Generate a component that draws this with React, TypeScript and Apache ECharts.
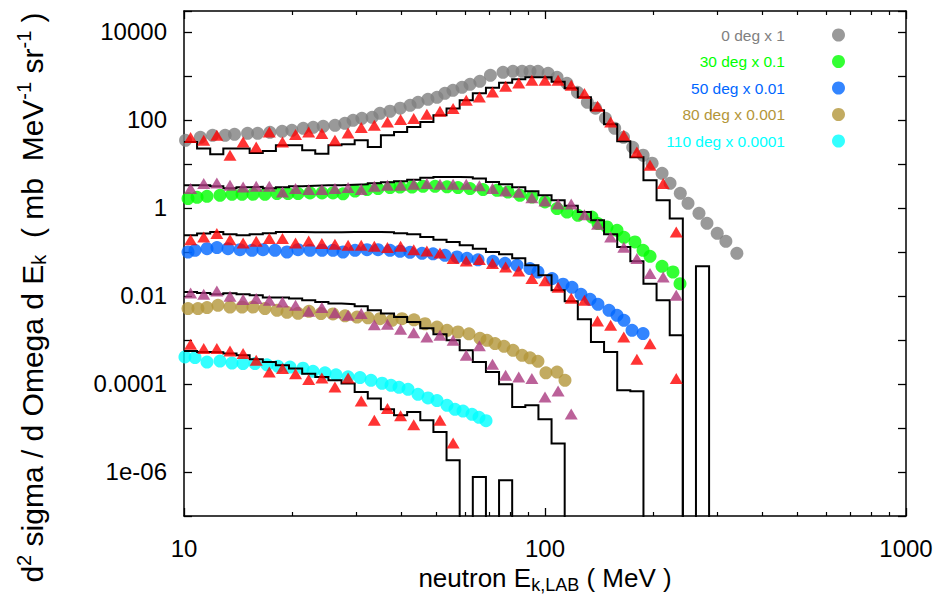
import React, { useEffect, useRef } from "react";
import * as echarts from "echarts";

const FONT = "'Liberation Sans', Arial, Helvetica, sans-serif";

// ---- axes ----
const X_MIN = 10;
const X_MAX = 1000;
const Y_MIN = 1e-7;
const Y_MAX = 3e4;
const X_TICK_VALUES = [10, 100, 1000];
const X_TICK_LABELS = ["10", "100", "1000"];
const Y_TICK_EXP = [4, 2, 0, -2, -4, -6];
const Y_TICK_LABELS = ["10000", "100", "1", "0.01", "0.0001", "1e-06"];
const X_TITLE = "{n|neutron E}{sub|k,LAB}{n| ( MeV )}";
const Y_TITLE = "{n|d}{sup|2}{n| sigma / d Omega d E}{sub|k}{n|  ( mb  MeV}{sup|-1}{n| sr}{sup|-1}{n| )}";

// value used for empty histogram bins (falls below the frame)
const EMPTY_BIN = 1e-12;

// ---- simulation bins (log spaced) ----
const BIN_EDGES = [10, 10.87, 11.82, 12.85, 13.98, 15.2, 16.53, 17.97, 19.54, 21.25, 23.1, 25.12, 27.31, 29.7, 32.29, 35.11, 38.18, 41.51, 45.14, 49.08, 53.37, 58.03, 63.1, 68.61, 74.6, 81.11, 88.2, 95.9, 104.27, 113.38, 123.28, 134.05, 145.75, 158.49, 172.33, 187.38, 203.74, 221.54, 240.88, 261.92, 284.8];
const BIN_CENTERS = [10.43, 11.34, 12.33, 13.41, 14.58, 15.85, 17.23, 18.74, 20.37, 22.15, 24.09, 26.19, 28.48, 30.97, 33.67, 36.61, 39.81, 43.29, 47.07, 51.18, 55.65, 60.51, 65.8, 71.54, 77.79, 84.58, 91.97, 100.0, 108.7, 118.2, 128.6, 139.8, 152.0, 165.3, 179.7, 195.4, 212.5, 231.0];

// ---- legend ----
const LEGEND_NAMES = ["0 deg x 1", "30 deg x 0.1", "50 deg x 0.01", "80 deg x 0.001", "110 deg x 0.0001"];
const DATA_COLORS = ["#808080", "#00ff00", "#0066ff", "#b39639", "#00ffff"];
const TRI_RED = "#ff0000";
const TRI_PURPLE = "#aa3a80";

// ---- experimental data (circles) ----
const E_0 = [10.1, 11.1, 12.0, 13.0, 13.8, 15.0, 16.0, 17.3, 18.7, 19.9, 21.4, 22.8, 24.3, 26.2, 27.9, 29.4, 31.1, 33.2, 34.9, 37.2, 39.7, 42.3, 44.5, 47.4, 50.2, 52.8, 55.6, 58.9, 62.0, 66.0, 70.6, 76.5, 81.5, 86.4, 90.9, 95.6, 102, 108, 115, 123, 131, 138, 147, 156, 165, 175, 187, 198, 211, 222, 237, 249, 267, 281, 300, 317, 340];
const V_0 = [34.6, 40.5, 44.9, 44.9, 47.3, 49.9, 49.9, 52.5, 55.3, 58.3, 64.8, 68.3, 71.9, 75.8, 84.1, 98.5, 109, 115, 142, 158, 185, 216, 253, 295, 328, 404, 473, 553, 647, 758, 1038, 1213, 1279, 1279, 1279, 1279, 1151, 934, 682, 426, 253, 185, 109, 64.8, 40.5, 24.0, 15.8, 10.4, 6.15, 3.64, 2.16, 1.28, 0.759, 0.449, 0.266, 0.175, 0.0933];

const E_30 = [10.26, 10.87, 11.58, 12.58, 13.58, 14.48, 15.53, 16.76, 18.1, 19.42, 20.7, 22.34, 24.12, 25.86, 27.57, 29.77, 32.13, 34.47, 37.21, 39.66, 42.81, 45.92, 49.59, 53.53, 57.41, 61.97, 67.35, 73.62, 78.98, 85.24, 92.04, 100, 108, 115.1, 123.4, 134.9, 140.2, 148.5, 158.3, 165.5, 177.5, 186.9, 195.4, 211, 226.2, 236.6];
const V_30 = [1.636, 1.751, 1.845, 1.944, 2.048, 2.048, 2.048, 2.048, 2.125, 2.125, 2.125, 2.193, 2.193, 2.193, 2.102, 2.434, 2.619, 2.76, 2.909, 3.0, 3.0, 3.113, 3.113, 3.032, 2.909, 2.76, 2.619, 2.525, 2.31, 1.944, 1.778, 1.369, 0.969, 0.811, 0.682, 0.624, 0.442, 0.37, 0.311, 0.216, 0.169, 0.109, 0.0798, 0.0473, 0.0351, 0.0191];

const E_50 = [10.26, 10.73, 11.58, 12.34, 13.24, 14.29, 15.43, 16.55, 17.87, 19.29, 20.7, 22.34, 24.12, 25.86, 27.57, 29.77, 32.13, 34.47, 37.21, 39.66, 42.27, 45.63, 48.96, 52.84, 57.04, 60.8, 65.23, 71.78, 77.5, 83.66, 90.89, 95.6, 104.6, 112.2, 118.8, 125.8, 133.3, 140.2, 150.4, 158.3, 165.5, 174.2, 186.9];
const V_50 = [0.1, 0.109, 0.119, 0.126, 0.119, 0.113, 0.109, 0.113, 0.109, 0.1, 0.113, 0.109, 0.109, 0.109, 0.1, 0.109, 0.113, 0.113, 0.109, 0.104, 0.0985, 0.0934, 0.091, 0.0841, 0.077, 0.0719, 0.0665, 0.0615, 0.0554, 0.0499, 0.042, 0.0351, 0.0249, 0.0185, 0.0158, 0.0109, 0.00841, 0.00648, 0.00473, 0.00364, 0.0028, 0.00166, 0.0014];

const E_80 = [10.26, 10.93, 11.58, 12.42, 13.41, 14.48, 15.53, 16.76, 18.1, 19.29, 20.7, 22.2, 23.96, 25.86, 27.93, 30.15, 32.33, 34.91, 37.69, 40.17, 43.36, 46.52, 50.22, 53.53, 57.41, 61.58, 66.05, 69.07, 72.71, 77.0, 81.55, 86.4, 90.89, 95.6, 100.6, 108, 113.6];
const V_80 = [0.00517, 0.00517, 0.00545, 0.00615, 0.00562, 0.00562, 0.00562, 0.00517, 0.00473, 0.00426, 0.00404, 0.00449, 0.00398, 0.0039, 0.00355, 0.00333, 0.0032, 0.00306, 0.0028, 0.00306, 0.00288, 0.00234, 0.00197, 0.00166, 0.00152, 0.00138, 0.00109, 0.000985, 0.000828, 0.000719, 0.000583, 0.000449, 0.000394, 0.000328, 0.00018, 0.000187, 0.000121];

const E_110 = [10.06, 10.73, 11.58, 12.58, 13.58, 14.57, 15.73, 16.98, 18.21, 19.66, 21.36, 22.77, 24.58, 26.37, 28.47, 30.73, 32.96, 35.37, 37.45, 39.41, 41.74, 44.48, 47.41, 50.22, 53.53, 56.32, 59.28, 62.77, 65.64, 68.65];
const V_110 = [0.000411, 0.000398, 0.000316, 0.000333, 0.0003, 0.000291, 0.000291, 0.000273, 0.000252, 0.000243, 0.000228, 0.000194, 0.00018, 0.000162, 0.000146, 0.00014, 0.000121, 0.000104, 0.0000934, 0.0000841, 0.0000758, 0.0000583, 0.0000481, 0.000042, 0.0000328, 0.0000266, 0.0000243, 0.0000205, 0.0000175, 0.0000147];

// ---- model A (triangles), one value per bin, null = no point ----
const TRI_0 = [39.8, 34.6, 44.9, 15.8, 31.6, 24.3, 53.4, 31.6, 46.6, 53.4, 49.1, 34.6, 50.6, 67.2, 75.8, 90.1, 102, 108, 135, 158, 182, 280, 333, 433, 583, 693, 798, 798, 798, 615, 398, 205, 90.1, 44.9, 18.7, 9.34, 3.58, 0.285];
const TRI_30 = [2.76, 3.59, 3.7, 3.28, 3.0, 3.11, 3.11, 2.31, 2.76, 2.62, 2.62, 2.76, 2.91, 2.62, 3.11, 3.28, 3.28, 3.46, 3.59, 3.46, 3.46, 3.46, 3.2, 2.76, 2.43, 2.28, 1.71, 1.44, 1.23, 1.23, 0.7, 0.426, 0.219, 0.128, 0.0708, 0.0323, 0.027, 0.0104];
const TRI_50 = [0.191, 0.219, 0.262, 0.191, 0.16, 0.175, 0.202, 0.202, 0.16, 0.178, 0.155, 0.15, 0.142, 0.142, 0.135, 0.126, 0.135, 0.113, 0.105, 0.0949, 0.0708, 0.0625, 0.0672, 0.0545, 0.0456, 0.037, 0.0249, 0.0222, 0.0158, 0.00887, 0.00798, 0.0027, 0.00216, 0.00117, 0.000364, 0.00082, null, 0.000133];
const TRI_80 = [0.0117, 0.0109, 0.013, 0.00985, 0.00828, 0.00873, 0.00798, 0.00731, 0.00615, 0.00449, 0.00545, 0.00415, 0.00364, 0.00398, 0.00221, 0.00227, 0.00175, 0.00147, 0.00117, 0.00128, 0.000985, 0.000449, 0.000738, 0.00028, 0.000158, 0.000144, 0.000133, 0.0000507, 0.0000693, 0.0000208];
const TRI_110 = [0.000798, 0.000638, 0.000638, 0.000562, 0.000491, 0.000346, 0.000187, 0.000224, 0.000172, 0.000126, 0.000136, 0.0000855, 0.000136, 0.0000411, 0.000015, 0.0000276, 0.0000189, 0.0000118, null, 0.000015, 0.00000456];

// ---- model B (histograms), one value per bin, 0 = empty bin ----
const HIST_0 = [31.6, 22.4, 16.6, 22.4, 22.4, 17.8, 19.7, 26.6, 26.6, 20.5, 17.2, 26.6, 28.0, 34.6, 24.3, 44.9, 53.4, 69.3, 90.1, 128, 182, 280, 404, 539, 700, 841, 934, 934, 738, 525, 328, 166, 79.8, 32.8, 14.2, 4.26, 1.5, 0.574, 0, 0.0473];
const HIST_30 = [3.28, 3.28, 3.11, 2.8, 2.95, 3.03, 2.8, 2.95, 3.11, 3.2, 3.28, 3.28, 3.37, 3.46, 3.64, 3.84, 4.04, 4.37, 4.86, 5.06, 5.06, 4.99, 4.66, 3.9, 3.46, 2.95, 2.4, 1.94, 1.5, 1.12, 0.811, 0.525, 0.253, 0.13, 0.0615, 0.0191, 0.00798, 0.00128];
const HIST_50 = [0.24, 0.262, 0.285, 0.253, 0.24, 0.253, 0.266, 0.285, 0.285, 0.28, 0.28, 0.28, 0.285, 0.285, 0.285, 0.28, 0.266, 0.253, 0.219, 0.191, 0.169, 0.142, 0.119, 0.1, 0.0886, 0.0719, 0.0499, 0.0295, 0.0135, 0.00758, 0.00295, 0.000901, 0.000534, 0.0000719, 0.0000683];
const HIST_80 = [0.0123, 0.0117, 0.0109, 0.0115, 0.0109, 0.0104, 0.0092, 0.0092, 0.00873, 0.00798, 0.00731, 0.00672, 0.00648, 0.00583, 0.00473, 0.00398, 0.00333, 0.00256, 0.00184, 0.00135, 0.000985, 0.000583, 0.000316, 0.000187, 0.0000985, 0.00003, 0.0000328, 0.0000158, 0.00000442];
const HIST_110 = [0.000562, 0.000534, 0.000525, 0.000491, 0.000449, 0.000364, 0.000316, 0.000266, 0.000224, 0.000172, 0.000144, 0.000121, 0.000102, 0.0000658, 0.0000466, 0.0000266, 0.0000194, 0.0000231, 0.000015, 0.00000811, 0.00000185, 0, 0.00000077, 0, 0.00000065];

const AXIS_COLOR = "#000";

function circleSeries(name: string, e: number[], v: number[], color: string) {
  return {
    type: "scatter",
    name,
    data: e.map((x, i) => [x, v[i]]),
    symbol: "circle",
    symbolSize: 13,
    itemStyle: { color },
    z: 2,
  };
}

function triangleSeries(name: string, vals: (number | null)[], color: string) {
  const data: number[][] = [];
  vals.forEach((v, k) => {
    if (v != null) data.push([BIN_CENTERS[k], v]);
  });
  return {
    type: "scatter",
    name,
    data,
    symbol: "triangle",
    symbolSize: [13, 11],
    itemStyle: { color },
    z: 4,
  };
}

function histSeries(name: string, vals: number[]) {
  const data = vals.map((v, k) => [BIN_EDGES[k], v > 0 ? v : EMPTY_BIN]);
  data.push([BIN_EDGES[vals.length], EMPTY_BIN]);
  return {
    type: "line",
    name,
    data,
    step: "end",
    symbol: "none",
    showSymbol: false,
    clip: true,
    lineStyle: { color: "#000", width: 2, join: "miter", cap: "butt" },
    itemStyle: { color: "#000" },
    z: 3,
  };
}

function xLabel(v: number) {
  const i = X_TICK_VALUES.findIndex((t) => Math.abs(t - v) / t < 1e-6);
  return i >= 0 ? X_TICK_LABELS[i] : "";
}

function yLabel(v: number) {
  const e = Math.round(v);
  if (Math.abs(v - e) > 1e-6) return "";
  const i = Y_TICK_EXP.indexOf(e);
  return i >= 0 ? Y_TICK_LABELS[i] : "";
}

export default function App() {
  const ref = useRef<HTMLDivElement>(null);

  useEffect(() => {
    if (!ref.current) return;
    const chart = echarts.init(ref.current, undefined, { renderer: "svg" });

    const lineStyle = { color: AXIS_COLOR, width: 1.5 };
    const logMin = Math.log10(Y_MIN);
    const logMax = Math.log10(Y_MAX);

    const xCommon = {
      type: "log",
      logBase: 10,
      min: X_MIN,
      max: X_MAX,
      axisLine: { show: true, onZero: false, lineStyle },
      axisTick: { show: true, inside: true, length: 8, lineStyle: { color: AXIS_COLOR, width: 1.3 } },
      minorTick: { show: true, splitNumber: 9, length: 4, lineStyle: { color: AXIS_COLOR, width: 1.2 } },
      splitLine: { show: false },
      minorSplitLine: { show: false },
    };

    const yTickAxis = {
      type: "value",
      min: logMin,
      max: logMax,
      interval: 1,
      axisLine: { show: true, onZero: false, lineStyle },
      axisTick: { show: true, inside: true, length: 8, lineStyle: { color: AXIS_COLOR, width: 1.3 } },
      splitLine: { show: false },
    };

    const names = LEGEND_NAMES;

    const option = {
      animation: false,
      backgroundColor: "#fff",
      textStyle: { fontFamily: FONT },
      grid: { left: 184, right: 36, top: 11, bottom: 83, containLabel: false, outerBoundsMode: "none" },
      legend: {
        orient: "vertical",
        right: 92,
        top: 22,
        align: "right",
        icon: "circle",
        itemWidth: 13,
        itemHeight: 13,
        itemGap: 10.5,
        selectedMode: false,
        textStyle: { fontFamily: FONT, fontSize: 15.5, padding: [0, 42, 0, 0] },
        data: names.map((n, i) => ({ name: n, textStyle: { color: DATA_COLORS[i] } })),
      },
      xAxis: [
        {
          ...xCommon,
          position: "bottom",
          axisLabel: { show: true, formatter: xLabel, fontSize: 24, color: "#000", margin: 20, fontFamily: FONT },
          name: X_TITLE,
          nameLocation: "middle",
          nameGap: 44,
          nameTextStyle: {
            color: "#000",
            fontFamily: FONT,
            rich: {
              n: { fontSize: 26, fontFamily: FONT, color: "#000" },
              sub: { fontSize: 18, fontFamily: FONT, color: "#000", padding: [14, 0, 0, 0] },
            },
          },
        },
        {
          ...xCommon,
          position: "top",
          axisLabel: { show: false },
        },
      ],
      yAxis: [
        { type: "log", logBase: 10, min: Y_MIN, max: Y_MAX, show: false, splitLine: { show: false } },
        {
          ...yTickAxis,
          position: "left",
          axisLabel: { show: true, formatter: yLabel, fontSize: 24, color: "#000", margin: 17, fontFamily: FONT },
          name: Y_TITLE,
          nameLocation: "middle",
          nameRotate: 90,
          nameGap: 134,
          nameTextStyle: {
            color: "#000",
            fontFamily: FONT,
            padding: [0, 68, 0, 0],
            rich: {
              n: { fontSize: 30, fontFamily: FONT, color: "#000" },
              sup: { fontSize: 20, fontFamily: FONT, color: "#000", padding: [0, 0, 16, 0] },
              sub: { fontSize: 20, fontFamily: FONT, color: "#000", padding: [14, 0, 0, 0] },
            },
          },
        },
        {
          ...yTickAxis,
          position: "right",
          axisLabel: { show: false },
        },
      ],
      series: [
        circleSeries(names[0], E_0, V_0, DATA_COLORS[0]),
        circleSeries(names[1], E_30, V_30, DATA_COLORS[1]),
        circleSeries(names[2], E_50, V_50, DATA_COLORS[2]),
        circleSeries(names[3], E_80, V_80, DATA_COLORS[3]),
        circleSeries(names[4], E_110, V_110, DATA_COLORS[4]),
        histSeries("histogram 0 deg", HIST_0),
        histSeries("histogram 30 deg", HIST_30),
        histSeries("histogram 50 deg", HIST_50),
        histSeries("histogram 80 deg", HIST_80),
        histSeries("histogram 110 deg", HIST_110),
        triangleSeries("model 0 deg", TRI_0, TRI_RED),
        triangleSeries("model 30 deg", TRI_30, TRI_PURPLE),
        triangleSeries("model 50 deg", TRI_50, TRI_RED),
        triangleSeries("model 80 deg", TRI_80, TRI_PURPLE),
        triangleSeries("model 110 deg", TRI_110, TRI_RED),
      ],
    };

    chart.setOption(option as any);
    return () => chart.dispose();
  }, []);

  return (
    <div
      ref={ref}
      style={{ position: "fixed", left: 0, top: 0, width: 942, height: 599, background: "#fff" }}
    />
  );
}
